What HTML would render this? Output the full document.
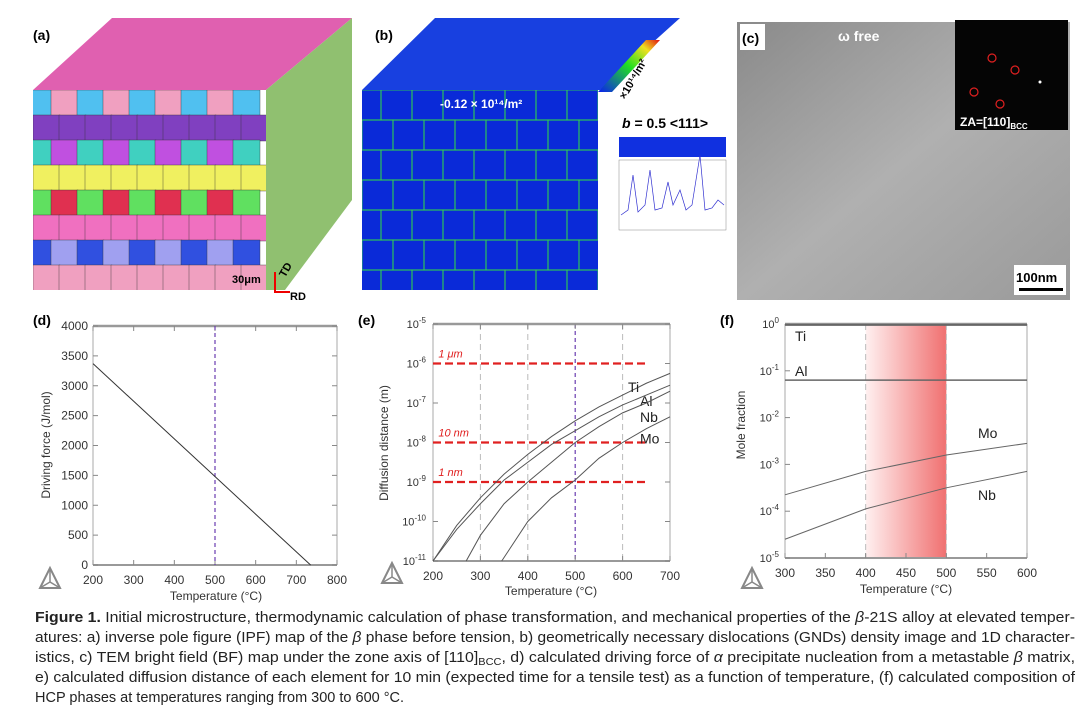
<!DOCTYPE html>
<html><head><meta charset="utf-8"><style>
html,body{margin:0;padding:0;background:#fff;width:1080px;height:717px;overflow:hidden}
svg{display:block}
text{font-family:"Liberation Sans",sans-serif}
</style></head><body>
<svg id="fig" width="1080" height="717" viewBox="0 0 1080 717">
<defs>
<linearGradient id="pinkg" x1="0" x2="1" y1="0" y2="0"><stop offset="0" stop-color="#fff0f0"/><stop offset="1" stop-color="#f07070"/></linearGradient>
<linearGradient id="cbar" x1="0" x2="1" y1="1" y2="0"><stop offset="0" stop-color="#0a1ef0"/><stop offset="0.5" stop-color="#20e020"/><stop offset="0.8" stop-color="#f0e020"/><stop offset="1" stop-color="#e01010"/></linearGradient>
<linearGradient id="temg" x1="0" x2="1" y1="0" y2="1"><stop offset="0" stop-color="#8a8a8a"/><stop offset="0.5" stop-color="#b0b0b0"/><stop offset="1" stop-color="#9a9a9a"/></linearGradient>
<clipPath id="clipA"><rect x="33" y="90" width="233" height="200"/></clipPath>
<clipPath id="clipB"><rect x="362" y="90" width="236" height="200"/></clipPath>
</defs>

<!-- Panel a -->
<g>
<polygon points="33,90 112,18 352,18 266,90" fill="#e060b0"/>
<polygon points="266,90 352,18 352,200 285,290 266,290" fill="#90c070"/>
<g id="grainsA" clip-path="url(#clipA)"></g>
<text x="33" y="40" font-size="14" font-weight="bold" font-family="Liberation Serif">(a)</text>
<text x="232" y="283" font-size="11" font-weight="bold" font-family="Liberation Serif">30μm</text>
<text x="290" y="300" font-size="11" font-weight="bold" font-family="Liberation Serif">RD</text>
<text x="285" y="278" font-size="11" font-weight="bold" font-family="Liberation Serif" transform="rotate(-60 285 278)">TD</text>
<path d="M275,272 L275,292 L290,292" stroke="#e00" stroke-width="2" fill="none"/>
</g>

<!-- Panel b -->
<g>
<polygon points="362,90 435,18 680,18 600,90" fill="#1840e0"/>
<rect x="362" y="90" width="236" height="200" fill="#0a2ad8"/>
<g id="cellsB" clip-path="url(#clipB)"></g>
<polygon points="598,92 612,92 660,40 646,40" fill="url(#cbar)"/>
<text x="375" y="40" font-size="14" font-weight="bold" font-family="Liberation Serif">(b)</text>
<text x="440" y="108" font-size="12" fill="#fff" font-weight="bold" font-family="Liberation Serif">-0.12 × 10¹⁴/m²</text>
<text x="622" y="128" font-size="14" font-weight="bold" font-family="Liberation Serif" font-style="italic">b<tspan font-style="normal"> = 0.5 &lt;111&gt;</tspan></text>
<text x="625" y="100" font-size="11" font-weight="bold" font-family="Liberation Serif" transform="rotate(-60 625 100)">×10¹⁴/m²</text>
<rect x="619" y="137" width="107" height="20" fill="#1030e0"/>
<rect x="619" y="160" width="107" height="70" fill="#fff" stroke="#888" stroke-width="0.5"/>
<polyline points="621,215 628,210 633,175 638,212 645,205 650,170 655,210 662,208 668,182 673,205 680,190 686,210 692,205 700,155 705,210 712,208 718,200 724,205" fill="none" stroke="#3030d0" stroke-width="0.7"/>
</g>

<!-- Panel c -->
<g>
<rect x="737" y="22" width="333" height="278" fill="url(#temg)"/>
<rect x="955" y="20" width="113" height="110" fill="#050505"/>
<g fill="none" stroke="#e02020" stroke-width="1.2"><circle cx="992" cy="58" r="4"/><circle cx="1015" cy="70" r="4"/><circle cx="974" cy="92" r="4"/><circle cx="1000" cy="104" r="4"/></g>
<circle cx="1040" cy="82" r="1.5" fill="#fff"/>
<text x="960" y="126" font-size="12" fill="#fff" font-weight="bold" font-family="Liberation Serif">ZA=[110]<tspan font-size="8" dy="3">BCC</tspan></text>
<rect x="740" y="24" width="25" height="26" fill="#fff"/>
<text x="742" y="43" font-size="14" font-weight="bold" font-family="Liberation Serif">(c)</text>
<text x="838" y="41" font-size="14" fill="#fff" font-weight="bold" font-family="Liberation Serif">ω free</text>
<rect x="1014" y="265" width="52" height="30" fill="#fff"/>
<text x="1016" y="282" font-size="13" font-weight="bold" font-family="Liberation Serif">100nm</text>
<rect x="1019" y="288" width="44" height="3" fill="#000"/>
</g>

<g id="charts"></g>

<!-- Caption -->
<g font-size="14.5" fill="#222">
<text x="35" y="622" textLength="1040" lengthAdjust="spacingAndGlyphs"><tspan font-weight="bold">Figure 1.</tspan> Initial microstructure, thermodynamic calculation of phase transformation, and mechanical properties of the <tspan font-style="italic">β</tspan>-21S alloy at elevated temper-</text>
<text x="35" y="642" textLength="1040" lengthAdjust="spacingAndGlyphs">atures: a) inverse pole figure (IPF) map of the <tspan font-style="italic">β</tspan> phase before tension, b) geometrically necessary dislocations (GNDs) density image and 1D character-</text>
<text x="35" y="662" textLength="1040" lengthAdjust="spacingAndGlyphs">istics, c) TEM bright field (BF) map under the zone axis of [110]<tspan font-size="10" dy="3">BCC</tspan><tspan dy="-3">, d) calculated driving force of </tspan><tspan font-style="italic">α</tspan> precipitate nucleation from a metastable <tspan font-style="italic">β</tspan> matrix,</text>
<text x="35" y="682" textLength="1040" lengthAdjust="spacingAndGlyphs">e) calculated diffusion distance of each element for 10 min (expected time for a tensile test) as a function of temperature, (f) calculated composition of</text>
<text x="35" y="702">HCP phases at temperatures ranging from 300 to 600 °C.</text>
</g>
</svg>
<script>
// ---- chart data ----
const dTemps=[200,735];
const dForce=[3370,0];
const dXTicks=[200,300,400,500,600,700,800];
const dYTicks=[0,500,1000,1500,2000,2500,3000,3500,4000];

const eTiT=[200,250,300,350,400,450,500,550,600,650,700];
const eTiV=[-11,-10.1,-9.4,-8.8,-8.3,-7.85,-7.45,-7.1,-6.8,-6.5,-6.25];
const eAlT=[200,250,300,350,400,450,500,550,600,650,700];
const eAlV=[-11,-10.2,-9.55,-8.95,-8.5,-8.05,-7.7,-7.35,-7.05,-6.8,-6.55];
const eNbT=[270,300,350,400,450,500,550,600,650,700];
const eNbV=[-11,-10.35,-9.55,-9.0,-8.5,-8.0,-7.6,-7.25,-7.0,-6.7];
const eMoT=[345,400,450,500,550,600,650,700];
const eMoV=[-11,-10.0,-9.4,-8.95,-8.4,-8.0,-7.65,-7.35];
const eRefV=[-6,-8,-9];
const eRefLabels=['1 μm','10 nm','1 nm'];
const eXTicks=[200,300,400,500,600,700];
const eYTicks=[-11,-10,-9,-8,-7,-6,-5];

const fT=[300,400,500,600];
const fMo=[-3.65,-3.15,-2.8,-2.55];
const fNb=[-4.6,-3.95,-3.5,-3.15];
const fAl=[-1.2,-1.2,-1.2,-1.2];
const fTi=[-0.02,-0.02,-0.02,-0.02];
const fXTicks=[300,350,400,450,500,550,600];
const fYTicks=[-5,-4,-3,-2,-1,0];

const NS='http://www.w3.org/2000/svg';
const root=document.getElementById('charts');
function mk(tag,attrs,parent,txt){const e=document.createElementNS(NS,tag);for(const k in attrs)e.setAttribute(k,attrs[k]);if(txt!==undefined)e.textContent=txt;(parent||root).appendChild(e);return e;}
function lin(d0,d1,r0,r1){return v=>r0+(v-d0)/(d1-d0)*(r1-r0);}
function logo(x,y,g){mk('polygon',{points:`${x},${y-14} ${x-10},${y+6} ${x+10},${y+6}`,fill:'none',stroke:'#888','stroke-width':2},g);mk('path',{d:`M${x},${y-14} L${x},${y} L${x-10},${y+6} M${x},${y} L${x+10},${y+6}`,stroke:'#888','stroke-width':1.5,fill:'none'},g);}
function frame(g,x0,x1,y0,y1){
  mk('line',{x1:x0,y1:y0,x2:x1,y2:y0,stroke:'#999','stroke-width':2.5},g);
  mk('line',{x1:x0,y1:y1,x2:x1,y2:y1,stroke:'#999','stroke-width':2},g);
  mk('line',{x1:x0,y1:y0,x2:x0,y2:y1,stroke:'#aaa','stroke-width':1},g);
  mk('line',{x1:x1,y1:y0,x2:x1,y2:y1,stroke:'#aaa','stroke-width':1},g);
}

// ---- chart d ----
{const g=mk('g',{});  
const X=lin(200,800,93,337),Y=lin(0,4000,565,326);
frame(g,93,337,326,565);
dXTicks.forEach(t=>{mk('line',{x1:X(t),x2:X(t),y1:565,y2:560,stroke:'#888'},g);mk('line',{x1:X(t),x2:X(t),y1:326,y2:331,stroke:'#888'},g);const l=mk('text',{x:X(t),y:584,'font-size':12,'text-anchor':'middle',fill:'#333'},g,t);});
dYTicks.forEach(t=>{mk('line',{x1:93,x2:98,y1:Y(t),y2:Y(t),stroke:'#888'},g);mk('line',{x1:337,x2:332,y1:Y(t),y2:Y(t),stroke:'#888'},g);const l=mk('text',{x:88,y:Y(t)+4,'font-size':12,'text-anchor':'end',fill:'#333'},g,t);});
mk('line',{x1:X(500),x2:X(500),y1:326,y2:565,stroke:'#6a3db0','stroke-dasharray':'4,3','stroke-width':1.2},g);
const p=mk('polyline',{points:dTemps.map((t,i)=>X(t)+','+Y(dForce[i])).join(' '),fill:'none',stroke:'#333','stroke-width':1},g);

mk('text',{x:216,y:600,'font-size':12,'text-anchor':'middle',fill:'#333'},g,'Temperature (°C)');
mk('text',{x:50,y:445,'font-size':12,'text-anchor':'middle',fill:'#333',transform:'rotate(-90 50 445)'},g,'Driving force (J/mol)');
mk('text',{x:33,y:325,'font-size':14,'font-weight':'bold','font-family':'Liberation Serif'},g,'(d)');
logo(50,582,g);}

// ---- chart e ----
{const g=mk('g',{});  
const X=lin(200,700,433,670),Y=lin(-5,-11,324,561);
[300,400,600].forEach(t=>mk('line',{x1:X(t),x2:X(t),y1:324,y2:561,stroke:'#bbb','stroke-dasharray':'6,4'},g));
mk('line',{x1:X(500),x2:X(500),y1:324,y2:561,stroke:'#6a3db0','stroke-dasharray':'4,3','stroke-width':1.2},g);
frame(g,433,670,324,561);
eXTicks.forEach(t=>{mk('line',{x1:X(t),x2:X(t),y1:561,y2:556,stroke:'#888'},g);mk('line',{x1:X(t),x2:X(t),y1:324,y2:329,stroke:'#888'},g);const l=mk('text',{x:X(t),y:580,'font-size':12,'text-anchor':'middle',fill:'#333'},g,t);});
eYTicks.forEach(t=>{mk('line',{x1:433,x2:438,y1:Y(t),y2:Y(t),stroke:'#888'},g);mk('line',{x1:670,x2:665,y1:Y(t),y2:Y(t),stroke:'#888'},g);const l=mk('text',{x:426,y:Y(t)+4,'font-size':11,'text-anchor':'end',fill:'#333'},g);mk('tspan',{},l,'10');mk('tspan',{dy:-5,'font-size':8},l,String(t));});
eRefV.forEach((v,i)=>{const r=mk('line',{x1:X(200),x2:X(655),y1:Y(v),y2:Y(v),stroke:'#e02020','stroke-width':2.2,'stroke-dasharray':'8,4'},g);mk('text',{x:X(205)+3,y:Y(v)-6,'font-size':11,'font-style':'italic',fill:'#e02020'},g,eRefLabels[i]);});
[[eTiT,eTiV,'Ti',-6.6],[eAlT,eAlV,'Al',-6.95],[eNbT,eNbV,'Nb',-7.35],[eMoT,eMoV,'Mo',-7.9]].forEach(([T,V,n,ly])=>{
 const p=mk('polyline',{points:T.map((t,i)=>X(t)+','+Y(V[i])).join(' '),fill:'none',stroke:'#555','stroke-width':1},g);
 
 mk('text',{x:n==='Ti'?628:640,y:Y(ly)+5,'font-size':14,fill:'#222'},g,n);});
mk('text',{x:551,y:595,'font-size':12,'text-anchor':'middle',fill:'#333'},g,'Temperature (°C)');
mk('text',{x:388,y:443,'font-size':12,'text-anchor':'middle',fill:'#333',transform:'rotate(-90 388 443)'},g,'Diffusion distance (m)');
mk('text',{x:358,y:325,'font-size':14,'font-weight':'bold','font-family':'Liberation Serif'},g,'(e)');
logo(392,577,g);}

// ---- chart f ----
{const g=mk('g',{});  
const X0=785,X1=1027;
const X=lin(300,600,X0,X1),Y=lin(0,-5,324,558);
const sh=mk('rect',{x:X(400),y:324,width:X(500)-X(400),height:234,fill:'url(#pinkg)'},g);
[400,500].forEach(t=>mk('line',{x1:X(t),x2:X(t),y1:324,y2:558,stroke:'#bbb','stroke-dasharray':'6,4'},g));
frame(g,X0,X1,324,558);
fXTicks.forEach(t=>{mk('line',{x1:X(t),x2:X(t),y1:558,y2:553,stroke:'#888'},g);const l=mk('text',{x:X(t),y:577,'font-size':12,'text-anchor':'middle',fill:'#333'},g,t);});
fYTicks.forEach(t=>{mk('line',{x1:X0,x2:X0+5,y1:Y(t),y2:Y(t),stroke:'#888'},g);const l=mk('text',{x:X0-6,y:Y(t)+4,'font-size':11,'text-anchor':'end',fill:'#333'},g);mk('tspan',{},l,'10');mk('tspan',{dy:-5,'font-size':8},l,String(t));});
[[fTi,'Ti',2],[fAl,'Al',1.5],[fMo,'Mo',1],[fNb,'Nb',1]].forEach(([V,n,w])=>{const p=mk('polyline',{points:fT.map((t,i)=>X(t)+','+Y(V[i])).join(' '),fill:'none',stroke:'#666','stroke-width':w},g);});
mk('text',{x:795,y:341,'font-size':14,fill:'#222'},g,'Ti');
mk('text',{x:795,y:376,'font-size':14,fill:'#222'},g,'Al');
mk('text',{x:978,y:438,'font-size':14,fill:'#222'},g,'Mo');
mk('text',{x:978,y:500,'font-size':14,fill:'#222'},g,'Nb');
mk('text',{x:906,y:593,'font-size':12,'text-anchor':'middle',fill:'#333'},g,'Temperature (°C)');
mk('text',{x:745,y:425,'font-size':12,'text-anchor':'middle',fill:'#333',transform:'rotate(-90 745 425)'},g,'Mole fraction');
mk('text',{x:720,y:325,'font-size':14,'font-weight':'bold','font-family':'Liberation Serif'},g,'(f)');
logo(752,582,g);}

// ---- decorative grain maps ----
{const cols=['#e03050','#f070c0','#3050e0','#50c0f0','#f09030','#c050e0','#f0f060','#60e060','#e02020','#a0a0f0','#f0a0c0','#8040c0','#40d0c0','#f05090'];
const gA=document.getElementById('grainsA');let k=0;
for(let r=0;r<8;r++)for(let c=0;c<9;c++){k=(k*7+3+r)%cols.length;mk('rect',{x:33+c*26+(r%2)*8-8,y:90+r*25,width:27,height:26,fill:cols[k],stroke:'#333','stroke-width':0.4},gA);}
const gB=document.getElementById('cellsB');
for(let r=0;r<7;r++)for(let c=0;c<8;c++){mk('rect',{x:362+c*31+(r%2)*12-12,y:90+r*30,width:31,height:30,fill:'none',stroke:'#30d050','stroke-width':1.1,opacity:0.8},gB);}
}
</script>
</body></html>
